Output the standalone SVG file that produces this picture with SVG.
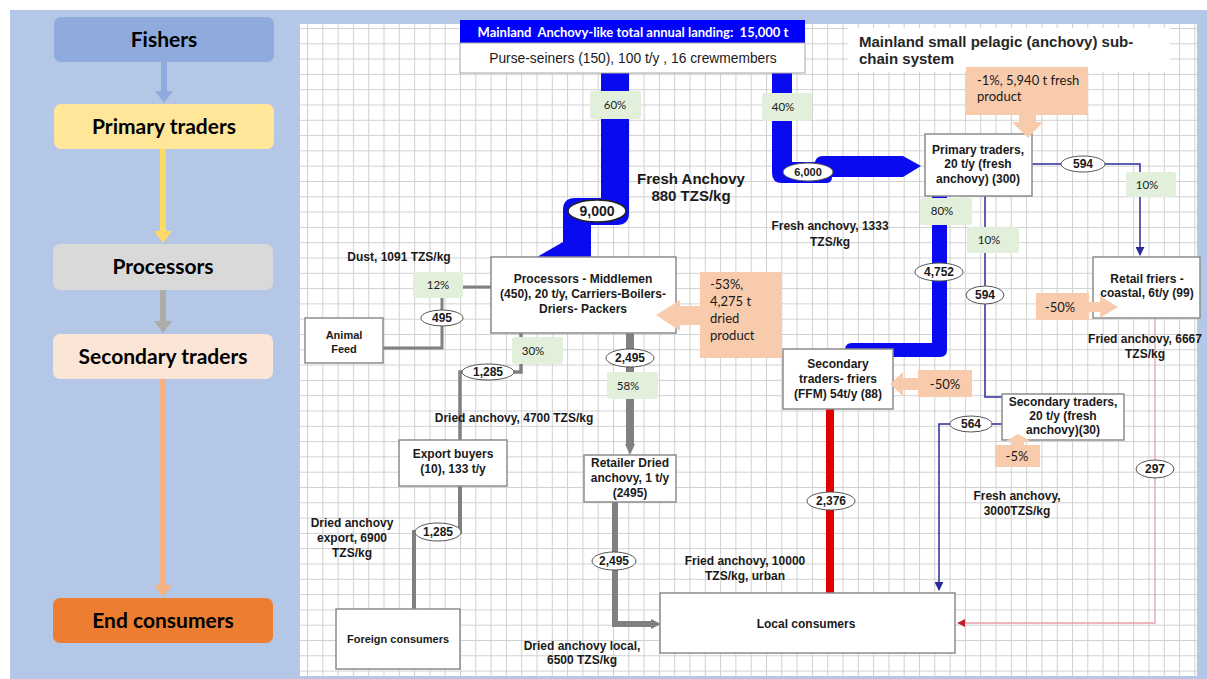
<svg xmlns="http://www.w3.org/2000/svg" width="1207" height="679" viewBox="0 0 1207 679">
  <defs>
    <pattern id="grid" x="307" y="28" width="15.3" height="15.3" patternUnits="userSpaceOnUse">
      <path d="M0.5,0 V15.3 M0,0.5 H15.3" stroke="#d0d0d0" stroke-width="1" fill="none"/>
    </pattern>
    <marker id="navyHead" viewBox="0 0 10 10" refX="9" refY="5" markerWidth="6" markerHeight="6" orient="auto">
      <path d="M0,0 L10,5 L0,10 Z" fill="#2b2b9a"/>
    </marker>
    <marker id="redHead" viewBox="0 0 10 10" refX="9" refY="5" markerWidth="6" markerHeight="6" orient="auto">
      <path d="M0,0 L10,5 L0,10 Z" fill="#c0202a"/>
    </marker>
    <style>
      .lab{font-family:"Liberation Sans",Arial,sans-serif;font-weight:bold;font-size:12px;fill:#1a1a1a;text-anchor:middle}
      .big{font-size:15px}
      .small{font-size:11px}
      .cal{font-family:Lato,"Open Sans",sans-serif;font-size:11.5px;fill:#1a1a1a;text-anchor:middle}
      .call{font-family:Lato,"Open Sans",sans-serif;font-size:13px;fill:#1a1a1a}
      .node{fill:#fff;stroke:#8c8c8c;stroke-width:1.5}
      .pct{fill:#e2efda}
      .peach{fill:#f8cbad}
      .oval{fill:#fff;stroke:#555;stroke-width:1}
      .num{font-family:"Liberation Sans",Arial,sans-serif;font-weight:bold;font-size:12px;fill:#1a1a1a;text-anchor:middle}
      .flow{fill:#0a0af0}
      .navy{fill:none;stroke:#2b2b9a;stroke-width:1.5}
      .grey{fill:none;stroke:#808080}
      .stage{font-family:Lato,"Open Sans",sans-serif;font-weight:bold;font-size:21px;fill:#000;text-anchor:middle}
    </style>
  </defs>

  <!-- frame and grid -->
  <rect x="0" y="0" width="1207" height="679" fill="#fff"/>
  <rect x="10" y="10" width="1197" height="669" fill="#b4c7e7"/>
  <rect x="300" y="24" width="897" height="652" fill="#fff"/>
  <rect x="300" y="24" width="897" height="652" fill="url(#grid)"/>

  <!-- value chain stages (left panel) -->
  <g id="stage-arrows">
    <path d="M161,62 V91 H155 L164,103 L173,91 H167 V62 Z" fill="#8faadc"/>
    <path d="M160,149 V231 H154 L163,243 L172,231 H166 V149 Z" fill="#ffd966"/>
    <path d="M160,290 V321 H154 L163,333 L172,321 H166 V290 Z" fill="#aeabab"/>
    <path d="M160,379 V585 H154 L163,597 L172,585 H166 V379 Z" fill="#f4b183"/>
  </g>
  <g id="stage-fishers">
    <rect x="54" y="17" width="220" height="45" rx="7" fill="#8faadc"/>
    <text class="stage" x="164" y="47">Fishers</text>
  </g>
  <g id="stage-primary">
    <rect x="54" y="104" width="220" height="45" rx="7" fill="#ffe699"/>
    <text class="stage" x="164" y="134">Primary traders</text>
  </g>
  <g id="stage-processors">
    <rect x="53" y="244" width="220" height="46" rx="7" fill="#d9d9d9"/>
    <text class="stage" x="163" y="274">Processors</text>
  </g>
  <g id="stage-secondary">
    <rect x="53" y="334" width="220" height="45" rx="7" fill="#fbe5d6"/>
    <text class="stage" x="163" y="364">Secondary traders</text>
  </g>
  <g id="stage-end">
    <rect x="53" y="598" width="220" height="45" rx="7" fill="#ed7d31"/>
    <text class="stage" x="163" y="628">End consumers</text>
  </g>

  <!-- connectors -->
  <g id="connectors">
    <!-- fresh anchovy to processors -->
    <path class="flow" d="M601,73 H629 V213 Q629,225 617,225 H591 V257 H563 V210 Q563,198 575,198 H601 Z"/>
    <path class="flow" d="M563,242 L537,257 L563,257 Z"/>
    <!-- fresh anchovy to primary traders -->
    <path class="flow" d="M772,73 H792 V162 H815 V164 Q815,156 823,156 H903 L921,166 L903,177 H832 Q832,183 826,183 H782 Q772,183 772,173 Z"/>
    <!-- primary traders to secondary traders-friers -->
    <path class="flow" d="M932,196 H947 V350 Q947,357 940,357 H845 V350 Q845,343 852,343 H932 Z"/>
    <!-- fried anchovy, urban -->
    <rect x="826" y="409" width="8" height="184" fill="#e00000"/>
    <!-- fresh anchovy thin flows -->
    <path class="navy" d="M1032,164 H1140 V255" marker-end="url(#navyHead)"/>
    <path class="navy" d="M985,196 V397 H1002"/>
    <path class="navy" d="M1002,424 H939 V590" marker-end="url(#navyHead)"/>
    <!-- coastal fried anchovy -->
    <path d="M1155,318 V623 H958" fill="none" stroke="#e6a1a8" stroke-width="1.3" marker-end="url(#redHead)"/>
    <!-- dust to animal feed -->
    <path class="grey" stroke-width="3" d="M491,287 H463"/>
    <path class="grey" stroke-width="3" d="M442,298 V348 H383"/>
    <!-- dried anchovy export -->
    <path class="grey" stroke-width="3.5" d="M521,333 V372 H460 V440"/>
    <path class="grey" stroke-width="4" d="M460,486 V532 H414 V609"/>
    <!-- dried anchovy local -->
    <path class="grey" stroke-width="8" d="M630,333 V445"/>
    <path d="M625,444 H635 L630,455 Z" fill="#808080"/>
    <path class="grey" stroke-width="6" d="M615,502 V624 H652"/>
    <path d="M651,619 V629 L661,624 Z" fill="#808080"/>
  </g>

  <!-- flow quantities -->
  <g id="quantities">
    <ellipse cx="597" cy="211" rx="29" ry="11" fill="#fff" stroke="#222" stroke-width="1.5"/>
    <text class="num" x="597" y="216" style="font-size:14px">9,000</text>
    <ellipse class="oval" cx="808" cy="172" rx="25" ry="9"/>
    <text class="num" x="808" y="176" style="font-size:11px">6,000</text>
    <ellipse class="oval" cx="1083" cy="164" rx="22" ry="8"/>
    <text class="num" x="1083" y="168">594</text>
    <ellipse class="oval" cx="939" cy="272" rx="24" ry="9"/>
    <text class="num" x="939" y="276">4,752</text>
    <ellipse class="oval" cx="985" cy="295" rx="19" ry="9"/>
    <text class="num" x="985" y="299">594</text>
    <ellipse class="oval" cx="971" cy="424" rx="21" ry="8"/>
    <text class="num" x="971" y="428">564</text>
    <ellipse class="oval" cx="1155" cy="469" rx="19" ry="9"/>
    <text class="num" x="1155" y="473">297</text>
    <ellipse class="oval" cx="831" cy="501" rx="24" ry="9"/>
    <text class="num" x="831" y="505">2,376</text>
    <ellipse class="oval" cx="442" cy="318" rx="21" ry="8"/>
    <text class="num" x="442" y="322">495</text>
    <ellipse class="oval" cx="488" cy="372" rx="26" ry="8"/>
    <text class="num" x="488" y="376">1,285</text>
    <ellipse class="oval" cx="630" cy="358" rx="24" ry="9"/>
    <text class="num" x="630" y="362">2,495</text>
    <ellipse class="oval" cx="614" cy="561" rx="22" ry="9"/>
    <text class="num" x="614" y="565">2,495</text>
    <ellipse class="oval" cx="438" cy="532" rx="23" ry="9"/>
    <text class="num" x="438" y="536">1,285</text>
  </g>

  <!-- shares -->
  <g id="shares">
    <rect class="pct" x="590" y="91" width="51" height="28" rx="3"/>
    <text class="cal" x="615" y="109">60%</text>
    <rect class="pct" x="762" y="93" width="50" height="28" rx="3"/>
    <text class="cal" x="783" y="111">40%</text>
    <rect class="pct" x="920" y="198" width="52" height="27" rx="3"/>
    <text class="cal" x="942" y="215">80%</text>
    <rect class="pct" x="967" y="227" width="52" height="26" rx="3"/>
    <text class="cal" x="989" y="244">10%</text>
    <rect class="pct" x="1126" y="172" width="50" height="25" rx="3"/>
    <text class="cal" x="1147" y="189">10%</text>
    <rect class="pct" x="413" y="272" width="50" height="26" rx="3"/>
    <text class="cal" x="438" y="289">12%</text>
    <rect class="pct" x="512" y="337" width="51" height="27" rx="3"/>
    <text class="cal" x="533" y="355">30%</text>
    <rect class="pct" x="607" y="372" width="51" height="27" rx="3"/>
    <text class="cal" x="628" y="390">58%</text>
  </g>

  <!-- landing header -->
  <g id="landing">
    <rect x="460" y="20" width="345" height="23" fill="#0000ff"/>
    <text x="633" y="37" xml:space="preserve" style="white-space:pre" font-family="Lato,'Open Sans',sans-serif" font-weight="bold" font-size="13" fill="#fff" text-anchor="middle">Mainland  Anchovy-like total annual landing:  15,000 t</text>
    <rect x="460" y="43" width="345" height="30" fill="#fff" stroke="#a6a6a6" stroke-width="1"/>
    <text x="633" y="63" font-family="'Liberation Sans',Arial,sans-serif" font-size="13.8" fill="#1a1a1a" text-anchor="middle">Purse-seiners (150), 100 t/y , 16 crewmembers</text>
  </g>

  <g id="title">
    <rect x="848" y="28" width="322" height="44" fill="#fff"/>
    <text font-family="'Liberation Sans',Arial,sans-serif" font-weight="bold" font-size="15" fill="#262626">
      <tspan x="859" y="47">Mainland small pelagic (anchovy) sub-</tspan>
      <tspan x="859" y="64">chain system</tspan>
    </text>
  </g>

  <!-- price labels -->
  <g id="prices">
    <text class="lab big"><tspan x="691" y="184">Fresh Anchovy</tspan><tspan x="691" y="201">880 TZS/kg</tspan></text>
    <text class="lab"><tspan x="830" y="230">Fresh anchovy, 1333</tspan><tspan x="830" y="246">TZS/kg</tspan></text>
    <text class="lab" x="399" y="261">Dust, 1091 TZS/kg</text>
    <text class="lab" x="514" y="422">Dried anchovy, 4700 TZS/kg</text>
    <text class="lab"><tspan x="352" y="527">Dried anchovy</tspan><tspan x="352" y="542">export, 6900</tspan><tspan x="352" y="557">TZS/kg</tspan></text>
    <text class="lab"><tspan x="582" y="650">Dried anchovy local,</tspan><tspan x="582" y="664">6500 TZS/kg</tspan></text>
    <text class="lab"><tspan x="745" y="565">Fried anchovy, 10000</tspan><tspan x="745" y="580">TZS/kg, urban</tspan></text>
    <text class="lab"><tspan x="1017" y="500">Fresh anchovy,</tspan><tspan x="1017" y="515">3000TZS/kg</tspan></text>
    <text class="lab"><tspan x="1145" y="343">Fried anchovy, 6667</tspan><tspan x="1145" y="358">TZS/kg</tspan></text>
  </g>

  <!-- actors -->
  <g id="primary-traders">
    <rect class="node" x="925" y="134" width="107" height="62"/>
    <text class="lab"><tspan x="978" y="154">Primary traders,</tspan><tspan x="978" y="168">20 t/y (fresh</tspan><tspan x="978" y="183">anchovy) (300)</tspan></text>
  </g>
  <g id="processors">
    <rect class="node" x="491" y="257" width="185" height="76"/>
    <text class="lab"><tspan x="583" y="283">Processors - Middlemen</tspan><tspan x="583" y="298">(450), 20 t/y, Carriers-Boilers-</tspan><tspan x="583" y="313">Driers- Packers</tspan></text>
  </g>
  <g id="animal-feed">
    <rect class="node" x="305" y="318" width="78" height="45"/>
    <text class="lab small"><tspan x="344" y="339">Animal</tspan><tspan x="344" y="353">Feed</tspan></text>
  </g>
  <g id="retail-friers">
    <rect class="node" x="1093" y="257" width="107" height="61"/>
    <text class="lab"><tspan x="1147" y="283">Retail friers -</tspan><tspan x="1147" y="297">coastal, 6t/y (99)</tspan></text>
  </g>
  <g id="secondary-friers">
    <rect class="node" x="783" y="349" width="110" height="60"/>
    <text class="lab"><tspan x="838" y="368">Secondary</tspan><tspan x="838" y="383">traders- friers</tspan><tspan x="838" y="398">(FFM) 54t/y (88)</tspan></text>
  </g>
  <g id="secondary-traders">
    <rect class="node" x="1002" y="394" width="122" height="46"/>
    <text class="lab"><tspan x="1063" y="406">Secondary traders,</tspan><tspan x="1063" y="420">20 t/y (fresh</tspan><tspan x="1063" y="434">anchovy)(30)</tspan></text>
  </g>
  <g id="export-buyers">
    <rect class="node" x="399" y="440" width="108" height="46"/>
    <text class="lab"><tspan x="453" y="458">Export buyers</tspan><tspan x="453" y="473">(10), 133 t/y</tspan></text>
  </g>
  <g id="retailer-dried">
    <rect class="node" x="584" y="455" width="92" height="47"/>
    <text class="lab"><tspan x="630" y="467">Retailer Dried</tspan><tspan x="630" y="482">anchovy, 1 t/y</tspan><tspan x="630" y="497">(2495)</tspan></text>
  </g>
  <g id="foreign-consumers">
    <rect class="node" x="336" y="609" width="124" height="60"/>
    <text class="lab small" x="398" y="643">Foreign consumers</text>
  </g>
  <g id="local-consumers">
    <rect class="node" x="660" y="593" width="295" height="60"/>
    <text class="lab" x="806" y="628">Local consumers</text>
  </g>

  <!-- losses -->
  <g id="loss-primary">
    <rect class="peach" x="966" y="67" width="122" height="48"/>
    <path class="peach" d="M1019,115 H1036 V122 H1043 L1028,138 L1012,122 H1019 Z"/>
    <text class="call"><tspan x="977" y="85">-1%, 5,940 t fresh</tspan><tspan x="977" y="101">product</tspan></text>
  </g>
  <g id="loss-processors">
    <rect class="peach" x="700" y="272" width="82" height="86"/>
    <path class="peach" d="M701,306 H680 V300 L656,315 L680,331 V325 H701 Z"/>
    <text class="call"><tspan x="710" y="289">-53%,</tspan><tspan x="710" y="306">4,275 t</tspan><tspan x="710" y="323">dried</tspan><tspan x="710" y="340">product</tspan></text>
  </g>
  <g id="loss-friers">
    <rect class="peach" x="918" y="370" width="54" height="27"/>
    <path class="peach" d="M919,378 H903 V372 L890,384 L903,396 V390 H919 Z"/>
    <text class="call" x="945" y="389" text-anchor="middle">-50%</text>
  </g>
  <g id="loss-retail">
    <rect class="peach" x="1036" y="293" width="53" height="27"/>
    <path class="peach" d="M1088,302 H1100 V296 L1118,307 L1100,318 V312 H1088 Z"/>
    <text class="call" x="1060" y="312" text-anchor="middle">-50%</text>
  </g>
  <g id="loss-secondary">
    <rect class="peach" x="995" y="445" width="45" height="22"/>
    <path class="peach" d="M1012,446 V441 H1006 L1018,434 L1030,441 H1024 V446 Z"/>
    <text class="call" x="1017" y="461" text-anchor="middle">-5%</text>
  </g>
</svg>
